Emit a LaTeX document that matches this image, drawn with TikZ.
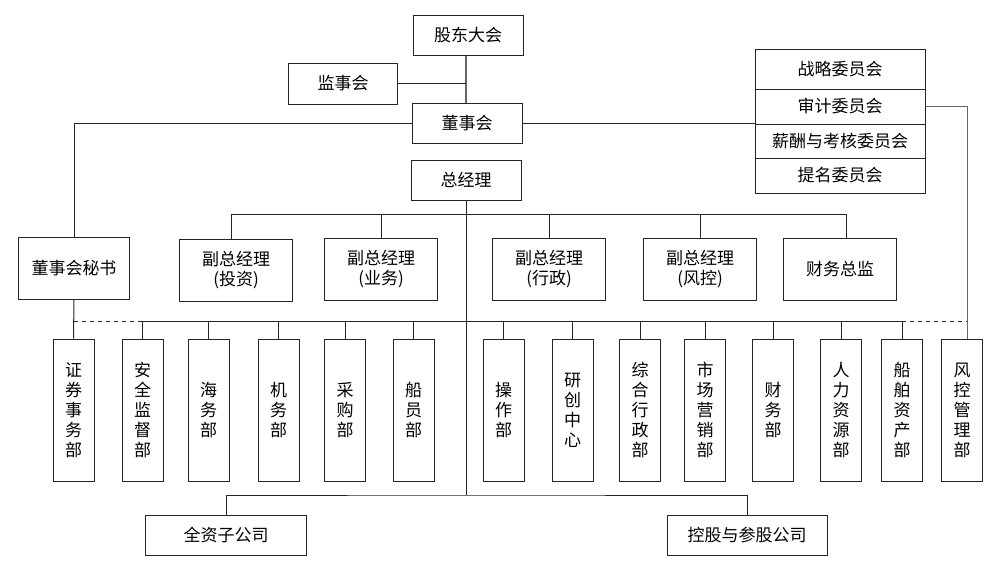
\documentclass[tikz,border=0pt]{standalone}
\usepackage{fontspec}
\setmainfont{Noto Sans CJK SC}
\usetikzlibrary{positioning}

\begin{document}
\begin{tikzpicture}[
            x=0.75pt, y=-0.75pt,
            every node/.style={font=\fontsize{12.75pt}{15pt}\selectfont, inner sep=0pt},
            box/.style={draw=black!85, line width=0.75pt, minimum width=82.5pt, minimum height=30pt,
                        align=center, fill=white},
            vpbox/.style={box, minimum width=84.75pt, minimum height=46.5pt},
            cmtbox/.style={box, minimum width=127.5pt},
            deptbox/.style={box, minimum width=30.75pt, minimum height=106.5pt},
            subbox/.style={box, minimum width=120.75pt},
            link/.style={draw=black!85, line width=0.75pt},
            glink/.style={draw=black!60, line width=1pt}]

            \useasboundingbox (0,0) rectangle (1008,571);

            % top of the chart
            \node[box] (gd)  at (468,35)  {股东大会};
            \node[box, minimum width=81.75pt, minimum height=30.75pt] (jsh) at (343,83.5) {监事会};
            \node[box] (dsh) at (467,123) {董事会};
            \node[box] (zjl) at (466,180) {总经理};

            % committees, stacked
            \node[cmtbox] (zl) at (840,69)                           {战略委员会};
            \node[cmtbox, minimum height=26.25pt] (sj) at (840,106.5) {审计委员会};
            \node[cmtbox, minimum height=25.5pt]  (xc) at (840,141)   {薪酬与考核委员会};
            \node[cmtbox, minimum height=26.25pt] (tm) at (840,175.5) {提名委员会};

            % second level
            \node[box, minimum width=83.25pt, minimum height=46.5pt] (mis) at (74,268) {董事会秘书};
            \node[vpbox] (vp1) at (236,270)   {副总经理\\(投资)};
            \node[vpbox] (vp2) at (381,269)   {副总经理\\(业务)};
            \node[vpbox] (vp3) at (549,269)   {副总经理\\(行政)};
            \node[vpbox] (vp4) at (700,269.5) {副总经理\\(风控)};
            \node[vpbox] (cfo) at (840,269)   {财务总监};

            % departments
            \node[deptbox] (zqb)  at (73.5,410)  {证\\券\\事\\务\\部};
            \node[deptbox] (aqb)  at (142.5,410) {安\\全\\监\\督\\部};
            \node[deptbox] (hwb)  at (208.5,410) {海\\务\\部};
            \node[deptbox] (jwb)  at (278.5,410) {机\\务\\部};
            \node[deptbox] (cgb)  at (345,410)   {采\\购\\部};
            \node[deptbox] (cyb)  at (413.5,410) {船\\员\\部};
            \node[deptbox] (czb)  at (503.5,410) {操\\作\\部};
            \node[deptbox] (yczx) at (572.5,410) {研\\创\\中\\心};
            \node[deptbox] (zhb)  at (640,410)   {综\\合\\行\\政\\部};
            \node[deptbox] (scb)  at (705,410)   {市\\场\\营\\销\\部};
            \node[deptbox] (cwb)  at (773,410)   {财\\务\\部};
            \node[deptbox] (rlb)  at (841,410)   {人\\力\\资\\源\\部};
            \node[deptbox] (cbzc) at (902,410)   {船\\舶\\资\\产\\部};
            \node[deptbox] (fkb)  at (962,410)   {风\\控\\管\\理\\部};

            % subsidiaries
            \node[subbox] (qz) at (226,535) {全资子公司};
            \node[subbox, minimum width=120pt] (kg) at (747,535) {控股与参股公司};

            % bus lines
            \coordinate (busA) at (466,214);
            \coordinate (busB) at (466,321);
            \coordinate (busC) at (466,495);
            \coordinate (fkin) at ([xshift=4pt]fkb.north);

            % board links
            \draw[glink] (dsh.north -| busA) -- (gd.south -| busA);
            \draw[link] (jsh.east) -- (jsh.east -| busA);
            \draw[link] (dsh.west) -| (mis.north);
            \draw[link] (dsh.east) -- (dsh.east -| zl.west);
            \draw[glink] (sj.east) -| (fkin);
            \draw[link] (zjl.south -| busA) -- (busC);

            % managers
            \coordinate (vp1in) at ([xshift=-3.75pt]vp1.north);
            \coordinate (cfoin) at ([xshift=5pt]cfo.north);
            \draw[link] (vp1in |- busA) -- (cfoin |- busA);
            \foreach \n in {vp1in, vp2.north, vp3.north, vp4.north, cfoin}
                \draw[link] (\n) -- (\n |- busA);

            % departments
            \draw[link] (mis.south) -- (zqb.north);
            \draw[link, dashed] (mis.south |- busB) -- (aqb.north |- busB);
            \draw[link] (aqb.north |- busB) -- (cbzc.north |- busB);
            \draw[link, dashed] (cbzc.north |- busB) -- (fkin |- busB);
            \foreach \n in {aqb, hwb, jwb, cgb, cyb, czb, yczx, zhb, scb, cwb, rlb, cbzc}
                \draw[link] (\n.north) -- (\n.north |- busB);

            % subsidiaries
            \draw[link] (qz.north) |- (busC) -| (kg.north);
\end{tikzpicture}
\end{document}
